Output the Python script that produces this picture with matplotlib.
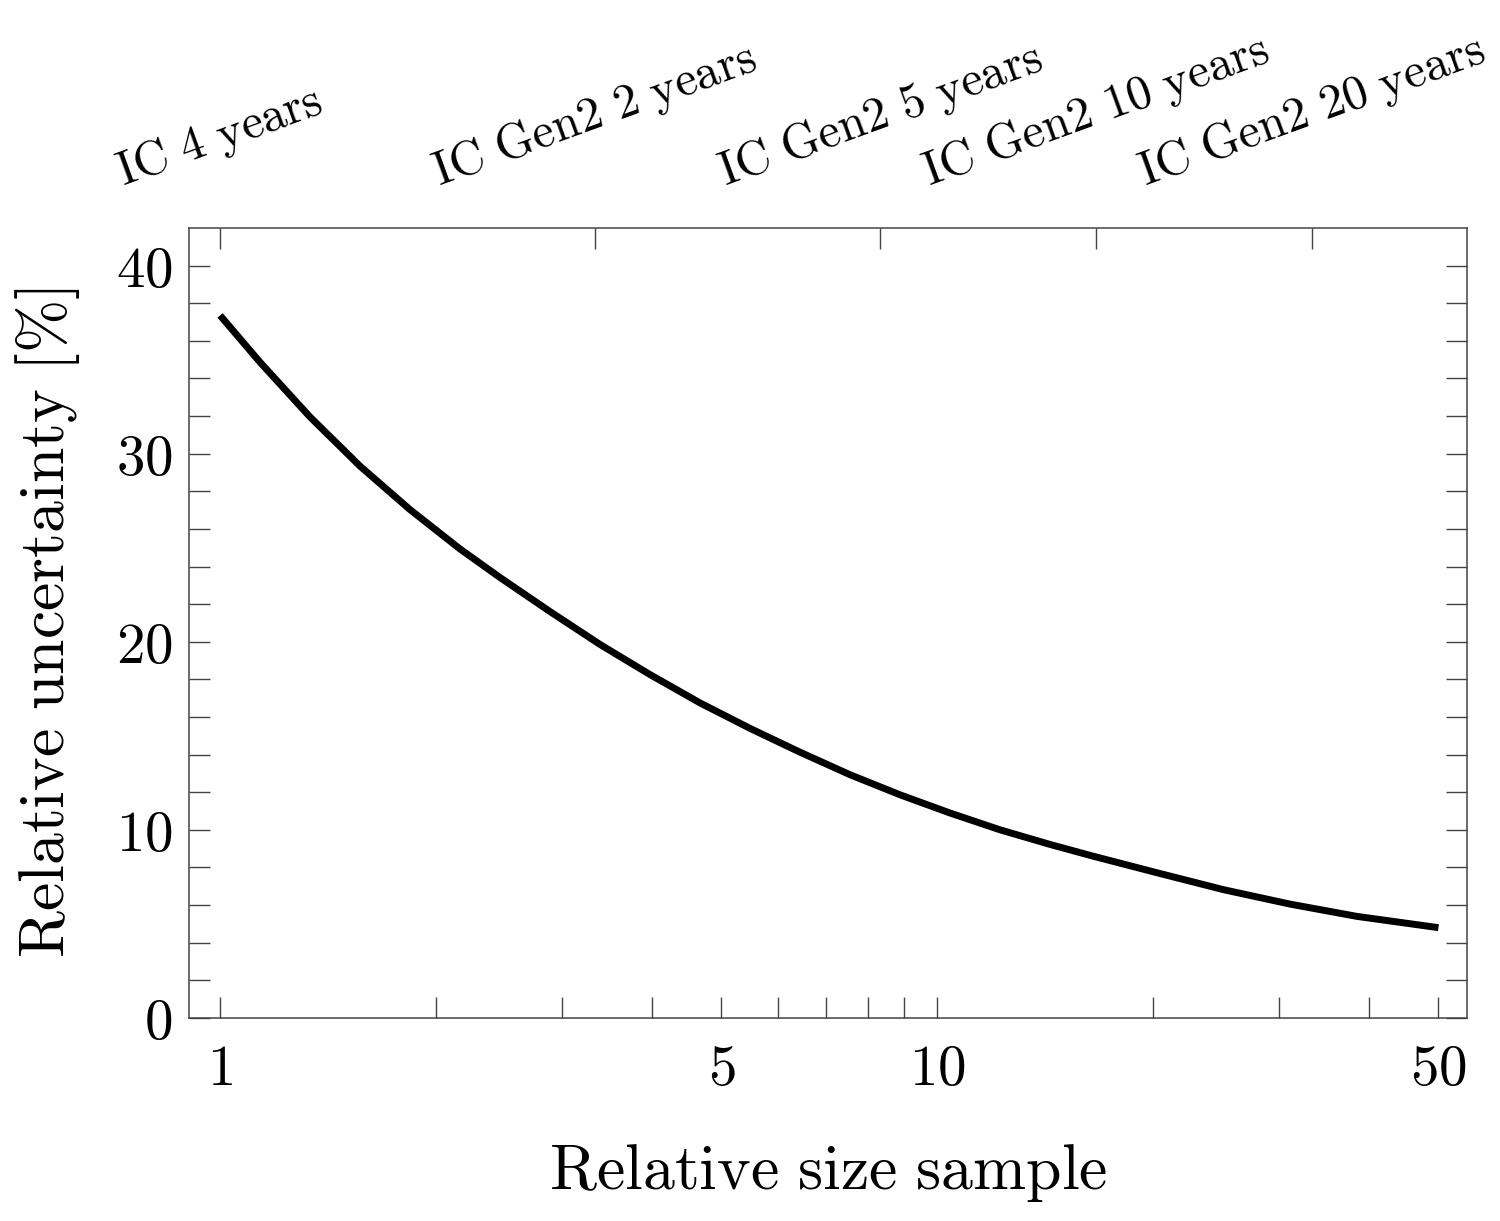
import matplotlib
matplotlib.use("Agg")
import matplotlib.pyplot as plt
from matplotlib.ticker import FixedLocator, FixedFormatter, NullFormatter

plt.rcParams['mathtext.fontset'] = 'cm'

# values
size_rel = [1.0, 1.137, 1.335, 1.568, 1.841, 2.161, 2.46, 2.886, 3.389, 3.979,
            4.674, 5.486, 6.42, 7.56, 8.88, 10.43, 12.24, 14.38, 16.5, 20.25,
            25.07, 31.07, 38.48, 50]
uncert = [37.35, 34.86, 31.95, 29.33, 27.02, 24.93, 23.4, 21.6, 19.85, 18.25,
          16.74, 15.39, 14.15, 12.93, 11.86, 10.89, 10.0, 9.22, 8.60, 7.72,
          6.82, 6.05, 5.40, 4.80]

top_pos = [1, 3.333, 8.333, 16.667, 33.333]
top_lab = ['IC 4 years', 'IC Gen2 2 years', 'IC Gen2 5 years',
           'IC Gen2 10 years', 'IC Gen2 20 years']

x_major = [1, 5, 10, 50]
x_minor = [2, 3, 4, 6, 7, 8, 9, 20, 30, 40]

def m(s):
    return r'$\mathrm{' + s.replace(' ', r'\ ') + '}$'

fig = plt.figure(figsize=(15, 12.21), dpi=100)
ax = fig.add_axes([0.126, 0.1663, 0.852, 0.647])

ax.plot(size_rel, uncert, color='black', lw=5, solid_capstyle='butt',
        solid_joinstyle='round')
ax.set_xscale('log')
ax.set_xlim(0.905, 54.8)
ax.set_ylim(0, 42)

edge = '#444444'
for s in ax.spines.values():
    s.set_color(edge)
    s.set_linewidth(1.1)

ax.xaxis.set_major_locator(FixedLocator(x_major))
ax.xaxis.set_major_formatter(FixedFormatter([m(str(v)) for v in x_major]))
ax.xaxis.set_minor_locator(FixedLocator(x_minor))
ax.xaxis.set_minor_formatter(NullFormatter())

ax.set_yticks([0, 10, 20, 30, 40])
ax.set_yticklabels([m(str(v)) for v in [0, 10, 20, 30, 40]])
ax.set_yticks(range(0, 42, 2), minor=True)

ax.tick_params(which='both', direction='in', length=15, width=1.0, color=edge,
               labelsize=41)
ax.tick_params(axis='y', which='both', right=True)
ax.tick_params(axis='x', which='both', top=False, pad=17)
ax.tick_params(axis='y', which='both', pad=12)

ax.set_xlabel(m('Relative size sample'), fontsize=46, labelpad=33)
ax.set_ylabel(m('Relative uncertainty [\\%]'), fontsize=46, labelpad=24)

top = ax.twiny()
top.set_xscale('log')
top.set_xlim(ax.get_xlim())
top.xaxis.set_major_locator(FixedLocator(top_pos))
top.xaxis.set_major_formatter(FixedFormatter([m(t) for t in top_lab]))
top.xaxis.set_minor_locator(FixedLocator([]))
top.tick_params(which='both', direction='in', length=15, width=1.0, color=edge,
                labelsize=35, pad=22)
for lab in top.get_xticklabels():
    lab.set_rotation(20)
    lab.set_ha('center')
for s in top.spines.values():
    s.set_visible(False)

fig.savefig('out.png', dpi=100)
